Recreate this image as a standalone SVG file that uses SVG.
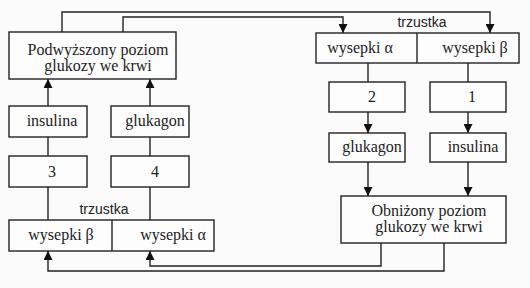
<svg xmlns="http://www.w3.org/2000/svg" width="530" height="288" viewBox="0 0 530 288">
<defs>
<style>
.box{fill:#fdfdfd;stroke:#222;stroke-width:1.4}
.ln{fill:none;stroke:#222;stroke-width:1.4}
.t{font-family:'Liberation Serif','DejaVu Serif',serif;font-size:16px;fill:#222;text-anchor:middle}
.s{font-family:'Liberation Sans',Arial,sans-serif;font-size:14px;fill:#222;text-anchor:middle}
</style>
<marker id="arr" viewBox="0 0 10 10" refX="10" refY="5" markerWidth="12" markerHeight="9" markerUnits="userSpaceOnUse" orient="auto">
<path d="M0,0 L10,5 L0,10 z" fill="#111"/>
</marker>
</defs>
<rect width="530" height="288" fill="#fbfbfb"/>
<g id="connectors">
<path class="ln" d="M62,32 V12 H490 V33" marker-end="url(#arr)"/>
<path class="ln" d="M123,32 V17 H343 V33" marker-end="url(#arr)"/>
<path class="ln" d="M48,106 V79" marker-end="url(#arr)"/>
<path class="ln" d="M150,106 V79" marker-end="url(#arr)"/>
<path class="ln" d="M48,137 V156"/>
<path class="ln" d="M48,187 V220"/>
<path class="ln" d="M150,137 V156"/>
<path class="ln" d="M150,187 V220"/>
<path class="ln" d="M368,63 V82"/>
<path class="ln" d="M368,112 V133" marker-end="url(#arr)"/>
<path class="ln" d="M368,162 V196" marker-end="url(#arr)"/>
<path class="ln" d="M468,63 V82"/>
<path class="ln" d="M468,112 V133" marker-end="url(#arr)"/>
<path class="ln" d="M468,162 V196" marker-end="url(#arr)"/>
<path class="ln" d="M381,243 V266 H150 V251" marker-end="url(#arr)"/>
<path class="ln" d="M444,243 V271 H48 V251" marker-end="url(#arr)"/>
</g>
<g id="podwyzszony">
<rect class="box" x="9" y="32" width="167" height="47"/>
<text class="t" x="98" y="55">Podwyższony poziom</text>
<text class="t" x="98" y="71">glukozy we krwi</text>
</g>
<g id="insulina-left">
<rect class="box" x="9" y="106" width="78" height="31"/>
<text class="t" x="52" y="126">insulina</text>
</g>
<g id="glukagon-left">
<rect class="box" x="111" y="106" width="78" height="31"/>
<text class="t" x="155" y="126">glukagon</text>
</g>
<g id="box3">
<rect class="box" x="9" y="156" width="78" height="31"/>
<text class="t" x="52" y="177">3</text>
</g>
<g id="box4">
<rect class="box" x="111" y="156" width="78" height="31"/>
<text class="t" x="155" y="177">4</text>
</g>
<g id="trzustka-left">
<text class="s" x="104" y="214">trzustka</text>
<rect class="box" x="9" y="220" width="205" height="31"/>
<line class="ln" x1="112" y1="220" x2="112" y2="251"/>
<text class="t" x="61" y="240">wysepki β</text>
<text class="t" x="173" y="240">wysepki α</text>
</g>
<g id="trzustka-right">
<text class="s" x="422" y="27">trzustka</text>
<rect class="box" x="316" y="33" width="203" height="30"/>
<line class="ln" x1="417" y1="33" x2="417" y2="63"/>
<text class="t" x="360" y="53">wysepki α</text>
<text class="t" x="475" y="53">wysepki β</text>
</g>
<g id="box2">
<rect class="box" x="329" y="82" width="76" height="30"/>
<text class="t" x="372" y="102">2</text>
</g>
<g id="box1">
<rect class="box" x="430" y="82" width="76" height="30"/>
<text class="t" x="472" y="102">1</text>
</g>
<g id="glukagon-right">
<rect class="box" x="329" y="133" width="76" height="29"/>
<text class="t" x="372" y="152">glukagon</text>
</g>
<g id="insulina-right">
<rect class="box" x="430" y="133" width="76" height="29"/>
<text class="t" x="473" y="152">insulina</text>
</g>
<g id="obnizony">
<rect class="box" x="341" y="196" width="165" height="47"/>
<text class="t" x="429" y="216">Obniżony poziom</text>
<text class="t" x="429" y="232">glukozy we krwi</text>
</g>
</svg>
